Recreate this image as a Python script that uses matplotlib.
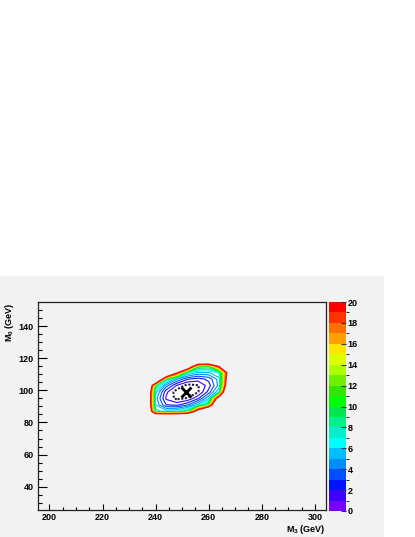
import numpy as np
import matplotlib
matplotlib.use("Agg")
import matplotlib.pyplot as plt
from matplotlib.colors import ListedColormap, BoundaryNorm
from matplotlib.patches import Rectangle

plt.rcParams['font.family'] = ['Liberation Sans', 'DejaVu Sans']
plt.rcParams['font.weight'] = 'bold'
plt.rcParams['mathtext.fontset'] = 'custom'
plt.rcParams['mathtext.rm'] = 'Liberation Sans:bold'
plt.rcParams['mathtext.it'] = 'Liberation Sans:bold'
plt.rcParams['mathtext.bf'] = 'Liberation Sans:bold'

# grid of the scanned chi2 (values above 20 are outside the scanned region)
m3 = [236, 240, 244, 248, 252, 256, 260, 264, 268]
m0 = [83, 87, 91, 95, 99, 103, 107, 111, 115, 119]
chi2 = [
    [40, 40, 40, 40, 40, 40, 40, 40, 40],
    [40, 7.5, 6.5, 7.0, 9.0, 24, 40, 40, 40],
    [36, 6.0, 3.0, 2.7, 3.8, 6.3, 10.3, 40, 40],
    [36, 5.5, 1.8, 0.7, 1.1, 2.8, 6.0, 25, 40],
    [36, 6.5, 2.3, 0.4, 0.0, 0.9, 3.4, 7.2, 40],
    [40, 10.0, 4.5, 1.9, 0.6, 0.9, 2.5, 5.5, 30],
    [40, 40, 8.5, 5.1, 3.1, 2.5, 3.3, 5.6, 28],
    [40, 40, 40, 21, 7.2, 5.8, 5.9, 7.3, 25],
    [40, 40, 40, 40, 30, 10.8, 10.1, 21, 26],
    [40, 40, 40, 40, 40, 40, 40, 40, 40],
]
bestFit = (251.3, 99.1)

levels = list(range(0, 21))
palette = ['#7800ff', '#3c00ff', '#0014ff', '#0050ff', '#008cff',
           '#00beff', '#00ffff', '#00f0c8', '#00f08c', '#00e650',
           '#00ff00', '#32e600', '#6ef000', '#aaff00', '#dcff00',
           '#ffe600', '#ffa000', '#ff6e00', '#ff3200', '#ff0000']

W, H = 415, 537
fig = plt.figure(figsize=(W / 100, H / 100), dpi=100)
fig.patch.set_facecolor('white')
bg = '#f2f2f2'
fig.patches.append(Rectangle((0, 0), 384 / W, (H - 276) / H, transform=fig.transFigure,
                             facecolor=bg, edgecolor='none', zorder=-10))

ax = fig.add_axes([38 / W, 27 / H, 288 / W, 208 / H])
ax.set_facecolor(bg)

X, Y = np.meshgrid(m3, m0)
Z = np.array(chi2)
cmap = ListedColormap(palette)
norm = BoundaryNorm(levels, cmap.N)

ax.contourf(X, Y, Z, levels=[-10, 20], colors=['white'])
ax.contour(X, Y, Z, levels=levels[2:], colors=palette[1:], linewidths=0.8)
ax.contour(X, Y, Z, levels=[1], colors=['#1c1c4c'], linewidths=1.5, linestyles=[(0, (1, 0.8))])
ax.plot(bestFit[0], bestFit[1], marker='x', color='black', markersize=7, mew=2)

ax.set_xlim(195.7, 304.2)
ax.set_ylim(25.5, 155)
ax.set_xticks(range(200, 301, 20))
ax.set_xticks(range(200, 305, 5), minor=True)
ax.set_yticks(range(40, 141, 20))
ax.set_yticks(range(30, 155, 5), minor=True)
ax.tick_params(axis='x', which='major', direction='in', length=4.3, width=0.8, pad=2, labelsize=6.5)
ax.tick_params(axis='x', which='minor', direction='in', length=2.2, width=0.8)
ax.tick_params(axis='y', which='major', direction='in', length=6.5, width=0.8, pad=3, labelsize=6.5)
ax.tick_params(axis='y', which='minor', direction='in', length=3.2, width=0.8)
for s in ax.spines.values():
    s.set_color('#222222')
    s.set_linewidth(0.9)

fig.text(326 / W, 1 - 529 / H, r'M$_3$ (GeV)', ha='right', va='center', fontsize=6.5, fontweight='bold')
fig.text(10 / W, 1 - 302 / H, r'M$_0$ (GeV)', ha='center', va='top', rotation=90, fontsize=6.5, fontweight='bold')

cax = fig.add_axes([329 / W, 26 / H, 17 / W, 209 / H])
sm = plt.cm.ScalarMappable(norm=norm, cmap=cmap)
cb = fig.colorbar(sm, cax=cax, ticks=range(0, 21, 2))
cb.outline.set_visible(False)
cax.tick_params(direction='in', length=3.5, width=0.8, color='#333333', pad=1, labelsize=6.5)

fig.savefig('out.png', dpi=100, facecolor='white')
